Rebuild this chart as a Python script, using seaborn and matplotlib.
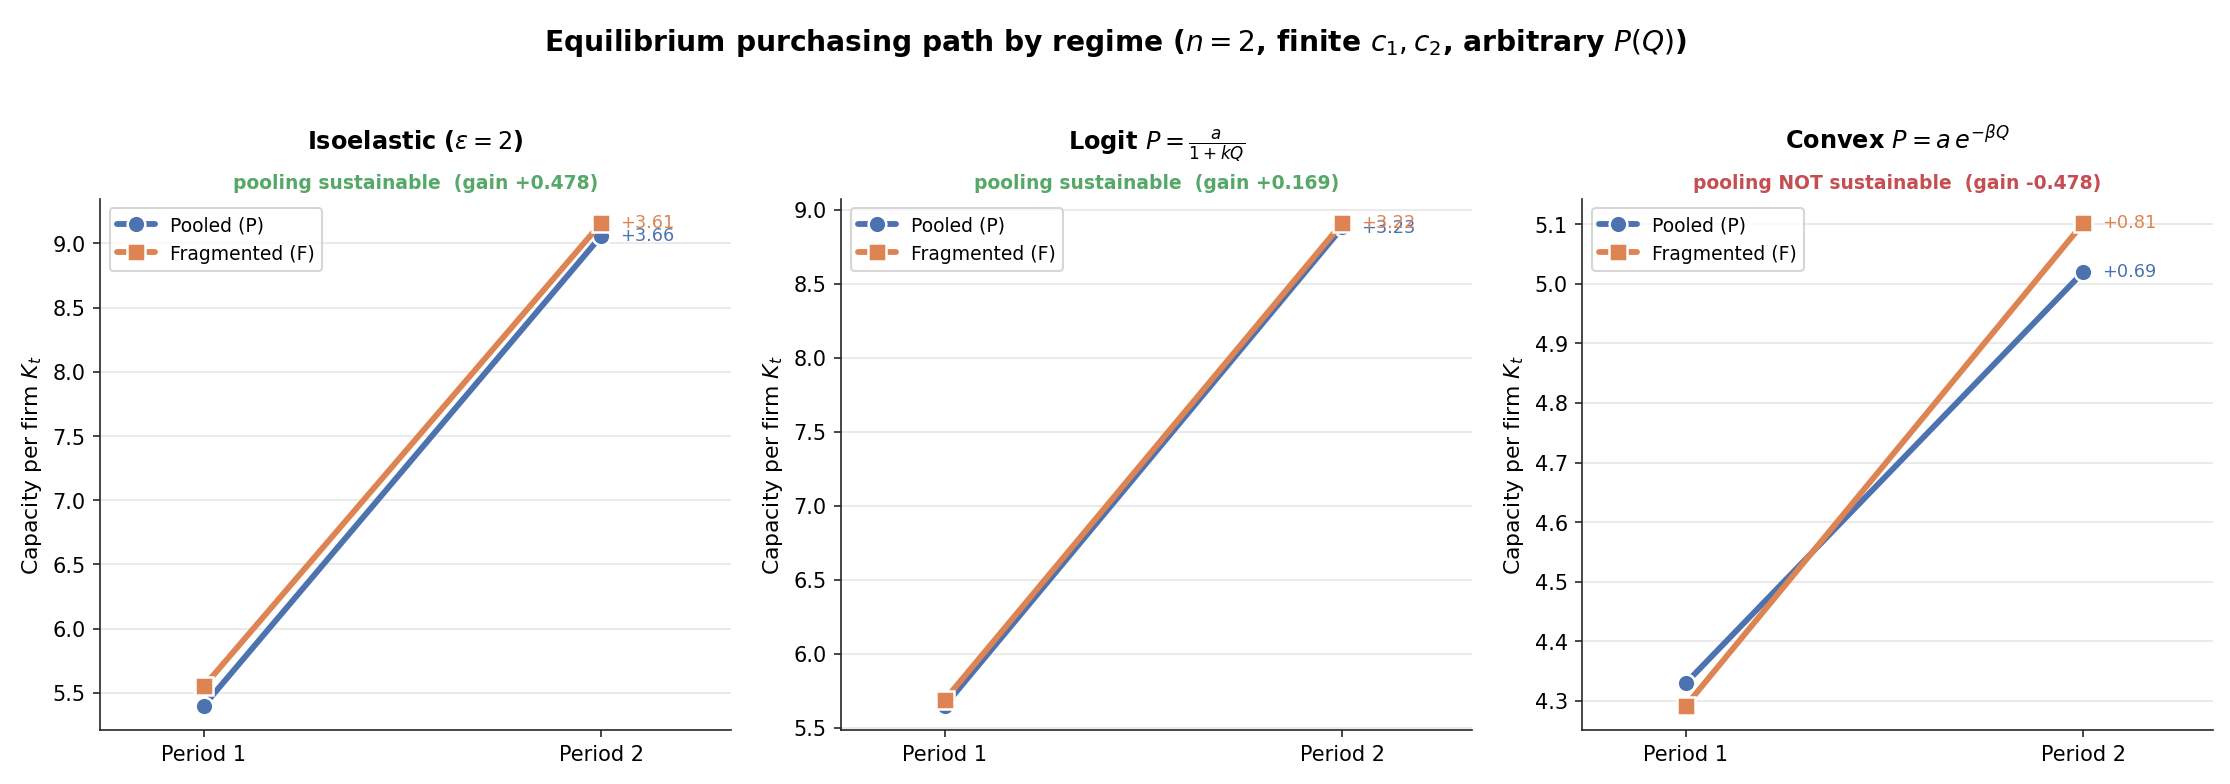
import matplotlib
matplotlib.use("Agg")
import matplotlib.pyplot as plt
import numpy as np
import pandas as pd
import seaborn as sns

# %% data
periods = ["Period 1", "Period 2"]
series = ["Pooled (P)", "Fragmented (F)"]
titles = [r"Isoelastic ($\varepsilon = 2$)",
          r"Logit $P = \frac{a}{1 + kQ}$",
          r"Convex $P = a\,e^{-\beta Q}$"]
notes = ["pooling sustainable  (gain +0.478)",
         "pooling sustainable  (gain +0.169)",
         "pooling NOT sustainable  (gain -0.478)"]
note_ok = [True, True, False]

pooled = [[5.40, 9.06], [5.65, 8.88], [4.33, 5.02]]
fragmented = [[5.55, 9.16], [5.69, 8.91], [4.292, 5.102]]

colors = {"Pooled (P)": "#4C72B0", "Fragmented (F)": "#DD8452"}
markers = {"Pooled (P)": "o", "Fragmented (F)": "s"}

# %%
sns.set_style("ticks")
plt.rcParams.update({"text.color": "black", "axes.labelcolor": "black",
                     "xtick.labelcolor": "black", "ytick.labelcolor": "black"})
fig, axes = plt.subplots(1, 3, figsize=(14.87, 5.23), dpi=150)
fig.subplots_adjust(left=0.045, right=0.992, top=0.746, bottom=0.069, wspace=0.176)

for i, ax in enumerate(axes):
    df = pd.DataFrame({
        "t": [0, 1, 0, 1],
        "K": pooled[i] + fragmented[i],
        "series": [series[0]] * 2 + [series[1]] * 2,
    })
    sns.lineplot(data=df, x="t", y="K", hue="series", style="series",
                 hue_order=series, style_order=series, palette=colors,
                 markers=markers, dashes=False, markersize=8.5,
                 markeredgecolor="white", markeredgewidth=1.2,
                 linewidth=2.8, ax=ax)
    for s, vals in zip(series, [pooled[i], fragmented[i]]):
        ax.annotate(f"{vals[1] - vals[0]:+.2f}", (1, vals[1]),
                    xytext=(9, 0), textcoords="offset points",
                    va="center", ha="left", fontsize=8.5, color=colors[s])
    ax.set_xticks([0, 1])
    ax.set_xticklabels(periods, fontsize=10)
    ax.set_xlim(-0.26, 1.325)
    ax.set_xlabel("")
    ax.set_ylabel(r"Capacity per firm $K_t$", fontsize=10.5)
    ax.tick_params(axis="y", labelsize=10)
    ax.grid(axis="y", color="#e6e6e6", linewidth=0.8)
    ax.set_axisbelow(True)
    ax.set_title(titles[i], fontsize=11.5, fontweight="bold", pad=24)
    ax.text(0.5, 1.012, notes[i], transform=ax.transAxes, ha="center",
            va="bottom", fontsize=9, fontweight="bold",
            color="#55A868" if note_ok[i] else "#C44E52")
    ax.legend(loc="upper left", fontsize=9, frameon=True, title=None)
    sns.despine(ax=ax)

fig.suptitle(r"Equilibrium purchasing path by regime ($n = 2$, finite $c_1, c_2$, arbitrary $P(Q)$)",
             fontsize=13.5, fontweight="bold", y=0.965)

fig.savefig("out.png", dpi=150)
